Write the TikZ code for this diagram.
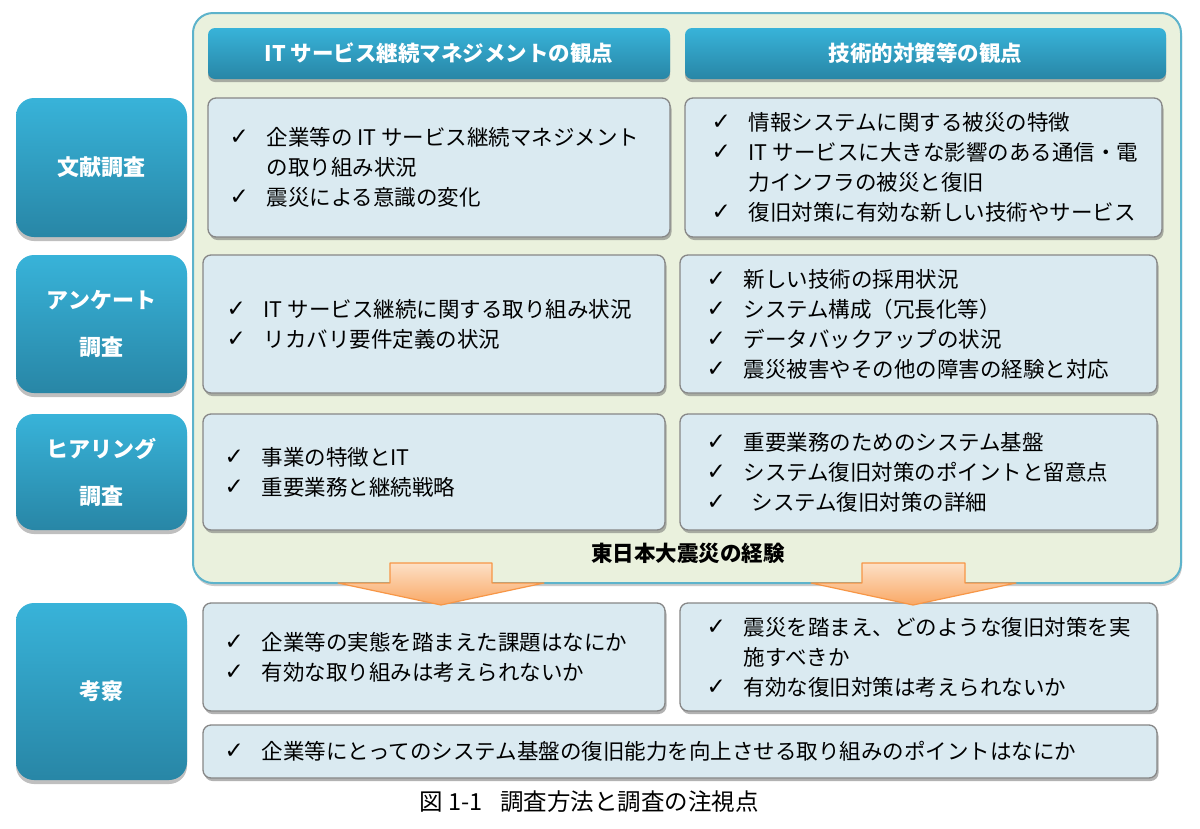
\documentclass[tikz,border=0pt]{standalone}
\usepackage{fontspec}
\setmainfont{Noto Sans CJK JP}
\newfontfamily\sym{DejaVu Sans}
\usetikzlibrary{shadows,fit}
\definecolor{labtop}{HTML}{38B3D9}
\definecolor{labbot}{HTML}{2886A6}
\definecolor{panelfill}{HTML}{EAF1DD}
\definecolor{panelline}{HTML}{5DB3CB}
\definecolor{boxfill}{HTML}{DAEAF1}
\definecolor{boxline}{HTML}{878787}
\definecolor{arrtop}{HTML}{FDE0C6}
\definecolor{arrbot}{HTML}{F9A865}
\definecolor{arrline}{HTML}{F79646}
\newcommand\ck{\makebox[37pt][l]{\raisebox{1pt}{\sym\fontsize{23}{23}\selectfont ✓}}}
\newcommand\ind{\hspace*{37pt}}
\begin{document}
\begin{tikzpicture}[x=1pt,y=-1pt,
  lab/.style={rounded corners=18pt, top color=labtop, bottom color=labbot, draw=none, inner sep=0pt,
    drop shadow={shadow xshift=0pt, shadow yshift=-4pt, opacity=0.45, fill=black!55}},
  labtxt/.style={text=white, font=\bfseries\fontsize{22}{47}\selectfont, align=center, inner sep=0pt},
  hdr/.style={rounded corners=7pt, top color=labtop, bottom color=labbot, draw=none, inner sep=0pt,
    drop shadow={shadow xshift=0pt, shadow yshift=-3pt, opacity=0.5, fill=black!60}},
  hdrtxt/.style={text=white, font=\bfseries\fontsize{21.5}{26}\selectfont, inner sep=0pt},
  panel/.style={rounded corners=20pt, fill=panelfill, draw=panelline, line width=2pt, inner sep=0pt,
    drop shadow={shadow xshift=1pt, shadow yshift=-3pt, opacity=0.4, fill=black!50}},
  cbox/.style={rounded corners=8pt, fill=boxfill, draw=boxline, line width=1.3pt, inner sep=0pt,
    drop shadow={shadow xshift=1.5pt, shadow yshift=-3pt, opacity=0.5, fill=black!60}},
  txt/.style={anchor=west, align=left, font=\fontsize{21.5}{30}\selectfont, inner sep=0pt},
  arr/.style={top color=arrtop, bottom color=arrbot, draw=arrline, line width=1.2pt, line join=round}
]
\fill[white] (0,0) rectangle (1200,828);
\useasboundingbox (0,0) rectangle (1200,828);

% main panel
\node[panel, fit={(193,13) (1181,583)}] (panel) {};

% headers
\node[hdr, fit={(208,28) (670,79)}] (h1) {};
\node[hdrtxt] (h1t) at (h1) {IT サービス継続マネジメントの観点};
\node[hdr, fit={(685,28) (1166,79)}] (h2) {};
\node[hdrtxt] (h2t) at (h2) {技術的対策等の観点};

% left labels
\node[lab, fit={(16,98) (187,237)}] (l1) {};
\node[labtxt] (l1t) at (l1) {文献調査};
\node[lab, fit={(16,255) (187,393)}] (l2) {};
\node[labtxt] (l2t) at (l2) {アンケート\\調査};
\node[lab, fit={(16,414) (187,530)}] (l3) {};
\node[labtxt] (l3t) at (l3) {ヒアリング\\調査};
\node[lab, fit={(16,603) (187,780)}] (l4) {};
\node[labtxt] (l4t) at (l4) {考察};

% row 1
\node[cbox, fit={(208,98) (670,237)}] (r1l) {};
\node[txt] (r1lt) at ([xshift=22pt]r1l.west) {\ck 企業等の IT サービス継続マネジメント\\\ind の取り組み状況\\\ck 震災による意識の変化};
\node[cbox, fit={(685,98) (1162,237)}] (r1r) {};
\node[txt] (r1rt) at ([xshift=27pt]r1r.west) {\ck 情報システムに関する被災の特徴\\\ck IT サービスに大きな影響のある通信・電\\\ind 力インフラの被災と復旧\\\ck 復旧対策に有効な新しい技術やサービス};

% row 2
\node[cbox, fit={(203,255) (665,393)}] (r2l) {};
\node[txt] (r2lt) at ([xshift=24pt]r2l.west) {\ck IT サービス継続に関する取り組み状況\\\ck リカバリ要件定義の状況};
\node[cbox, fit={(680,255) (1157,393)}] (r2r) {};
\node[txt] (r2rt) at ([xshift=27pt]r2r.west) {\ck 新しい技術の採用状況\\\ck システム構成（冗長化等）\\\ck データバックアップの状況\\\ck 震災被害やその他の障害の経験と対応};

% row 3
\node[cbox, fit={(203,414) (665,530)}] (r3l) {};
\node[txt] (r3lt) at ([xshift=22pt]r3l.west) {\ck 事業の特徴とIT\\\ck 重要業務と継続戦略};
\node[cbox, fit={(680,414) (1157,530)}] (r3r) {};
\node[txt] (r3rt) at ([xshift=27pt]r3r.west) {\ck 重要業務のためのシステム基盤\\\ck システム復旧対策のポイントと留意点\\\ck \hspace*{8pt}システム復旧対策の詳細};

\node[font=\bfseries\fontsize{21.5}{26}\selectfont, inner sep=0pt] (exp) at (688,553) {東日本大震災の経験};

% bottom
\node[cbox, fit={(203,603) (665,711)}] (b1) {};
\node[txt] (b1t) at ([xshift=22pt]b1.west) {\ck 企業等の実態を踏まえた課題はなにか\\\ck 有効な取り組みは考えられないか};
\node[cbox, fit={(680,603) (1157,711)}] (b2) {};
\node[txt] (b2t) at ([xshift=27pt]b2.west) {\ck 震災を踏まえ、どのような復旧対策を実\\\ind 施すべきか\\\ck 有効な復旧対策は考えられないか};
\node[cbox, fit={(203,725) (1157,778)}] (b3) {};
\node[txt] (b3t) at ([xshift=22pt]b3.west) {\ck 企業等にとってのシステム基盤の復旧能力を向上させる取り組みのポイントはなにか};

% arrows
\path[arr] (390,563) -- (492,563) -- (492,583) -- (544,583) -- (441,605) -- (338,583) -- (390,583) -- cycle;
\path[arr] (862,563) -- (965,563) -- (965,583) -- (1016,583) -- (913,605) -- (811,583) -- (862,583) -- cycle;

% caption
\node[font=\fontsize{23.5}{28}\selectfont, inner sep=0pt] (cap) at (589,802) {図 1-1\hspace{18pt}調査方法と調査の注視点};
\end{tikzpicture}
\end{document}
